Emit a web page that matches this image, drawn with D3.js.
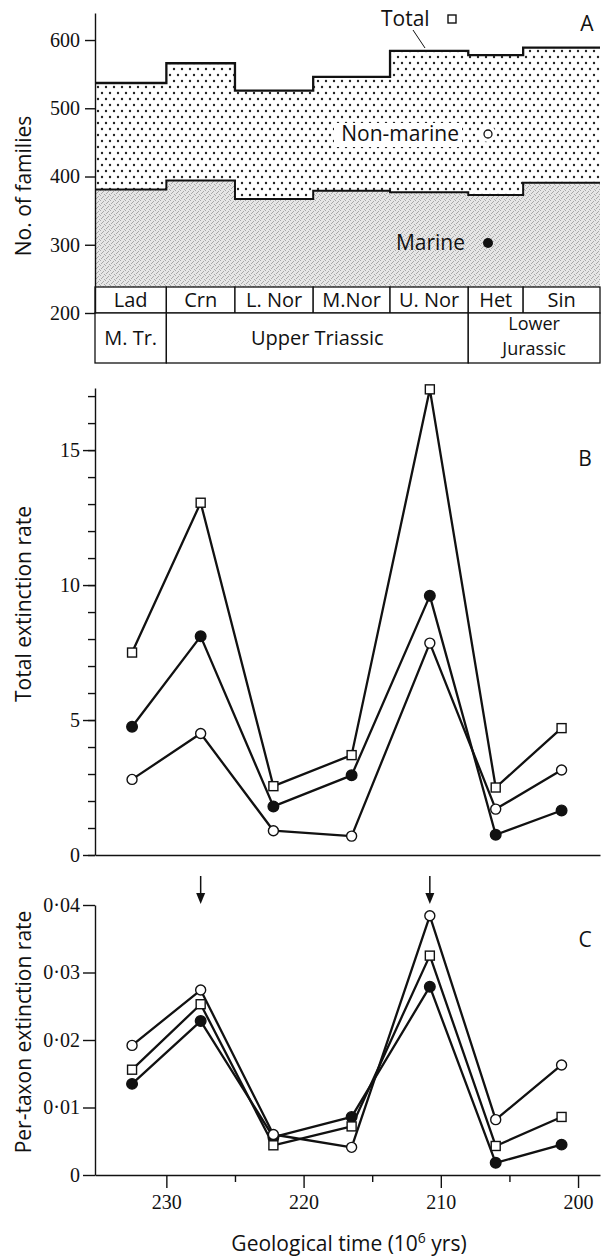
<html>
<head>
<script src="https://cdnjs.cloudflare.com/ajax/libs/d3/7.8.5/d3.min.js"></script>
<style>
body { margin: 0; background: #fff; }
text { font-family: "Open Sans", sans-serif; fill: #111; }
.tick text { font-family: "Liberation Serif", serif; font-size: 20px; fill: #111; }
.tick line, .domain { stroke: #111; stroke-width: 1.4px; }
</style>
</head>
<body>
<svg></svg>
<script>
// stages (time in 10^6 yrs)
var stageNames = ["Lad", "Crn", "L. Nor", "M.Nor", "U. Nor", "Het", "Sin"];
var stageBounds = [235.2, 230, 225, 219.3, 213.7, 208, 204, 198.4];
var stageMid = [232.5, 227.5, 222.2, 216.5, 210.8, 206, 201.2];
var periodNames = [["M. Tr."], ["Upper Triassic"], ["Lower", "Jurassic"]];
var periodBounds = [235.2, 230, 208, 198.4];

// A: number of families
var totalFamilies = [537, 566, 526, 546, 584, 578, 589];
var marineFamilies = [381, 394, 367, 379, 377, 373, 391];
var famTicks = [200, 300, 400, 500, 600];

// B: total extinction rate
var totalRate = [7.5, 13.05, 2.55, 3.7, 17.25, 2.5, 4.7];
var marineRate = [4.75, 8.1, 1.8, 2.95, 9.6, 0.75, 1.65];
var nonMarineRate = [2.8, 4.5, 0.9, 0.7, 7.85, 1.7, 3.15];
var rateTicks = [0, 5, 10, 15];

// C: per-taxon extinction rate
var totalPerTaxon = [0.0156, 0.0253, 0.0044, 0.0072, 0.0325, 0.0043, 0.0086];
var marinePerTaxon = [0.0135, 0.0228, 0.0056, 0.0086, 0.0279, 0.0018, 0.0045];
var nonMarinePerTaxon = [0.0192, 0.0274, 0.0060, 0.0041, 0.0384, 0.0082, 0.0163];
var perTaxonTicks = [0, 0.01, 0.02, 0.03, 0.04];

var timeTicks = [230, 220, 210, 200];
var timeMinor = [225, 215, 205];
var arrowTimes = [227.5, 210.8];

var svg = d3.select("svg").attr("width", 605).attr("height", 1257);
var x = d3.scaleLinear().domain([235.2, 198.4]).range([95, 600]);

// patterns
var defs = svg.append("defs");
var dots = defs.append("pattern").attr("id", "dots").attr("patternUnits", "userSpaceOnUse")
	.attr("width", 8).attr("height", 12);
dots.append("rect").attr("width", 8).attr("height", 12).attr("fill", "#fff");
dots.append("circle").attr("cx", 2).attr("cy", 3).attr("r", 1.2).attr("fill", "#222");
dots.append("circle").attr("cx", 6).attr("cy", 9).attr("r", 1.2).attr("fill", "#222");
var stip = defs.append("pattern").attr("id", "stip").attr("patternUnits", "userSpaceOnUse")
	.attr("width", 5).attr("height", 5);
stip.append("rect").attr("width", 5).attr("height", 5).attr("fill", "#e6e6e6");
[[0, 0], [3, 1], [1, 3], [4, 4], [2, 2]].forEach(function(p){
	stip.append("rect").attr("x", p[0]).attr("y", p[1]).attr("width", 1).attr("height", 1).attr("fill", "#a8a8a8");
});

function steps(vals){
	var out = [];
	vals.forEach(function(v, i){
		out.push([stageBounds[i], v]);
		out.push([stageBounds[i + 1], v]);
	});
	return out;
}

// ---------- panel A ----------
var yA = d3.scaleLinear().domain([200, 639.6]).range([313, 13]);
var gA = svg.append("g");
var totSteps = steps(totalFamilies), marSteps = steps(marineFamilies);

gA.append("path").datum(marSteps)
	.attr("fill", "url(#stip)")
	.attr("d", d3.area().x(function(d){ return x(d[0]); }).y0(287).y1(function(d){ return yA(d[1]); }));
gA.append("path").datum(totSteps)
	.attr("fill", "url(#dots)")
	.attr("d", d3.area().x(function(d){ return x(d[0]); })
		.y0(function(d, i){ return yA(marSteps[i][1]); })
		.y1(function(d){ return yA(d[1]); }));
var stepLine = d3.line().x(function(d){ return x(d[0]); }).y(function(d){ return yA(d[1]); });
gA.append("path").datum(marSteps).attr("d", stepLine).attr("fill", "none").attr("stroke", "#111").attr("stroke-width", 2);
gA.append("path").datum(totSteps).attr("d", stepLine).attr("fill", "none").attr("stroke", "#111").attr("stroke-width", 2.3);

// stage and period boxes
stageNames.forEach(function(n, i){
	var x0 = x(stageBounds[i]), x1 = x(stageBounds[i + 1]);
	gA.append("rect").attr("x", x0).attr("y", 287).attr("width", x1 - x0).attr("height", 26)
		.attr("fill", "#fff").attr("stroke", "#111").attr("stroke-width", 1.3);
	gA.append("text").attr("x", (x0 + x1) / 2).attr("y", 307).attr("text-anchor", "middle")
		.style("font-size", "20px").text(n);
});
periodNames.forEach(function(lines, i){
	var x0 = x(periodBounds[i]), x1 = x(periodBounds[i + 1]);
	gA.append("rect").attr("x", x0).attr("y", 313).attr("width", x1 - x0).attr("height", 50)
		.attr("fill", "#fff").attr("stroke", "#111").attr("stroke-width", 1.3);
	lines.forEach(function(l, j){
		gA.append("text").attr("x", (x0 + x1) / 2)
			.attr("y", lines.length == 1 ? 345 : 330 + j * 25)
			.attr("text-anchor", "middle").style("font-size", lines.length == 1 ? "20px" : "18px").text(l);
	});
});

gA.append("g").attr("transform", "translate(95,0)")
	.call(d3.axisLeft(yA).tickValues(famTicks).tickSize(10).tickPadding(5).tickSizeOuter(0));

// legend texts
gA.append("text").attr("x", 381).attr("y", 26).style("font-size", "21px").text("Total");
gA.append("rect").attr("x", 448).attr("y", 15).attr("width", 8).attr("height", 8)
	.attr("fill", "#fff").attr("stroke", "#111").attr("stroke-width", 1.4);
gA.append("line").attr("x1", 413).attr("y1", 30).attr("x2", 425).attr("y2", 48)
	.attr("stroke", "#111").attr("stroke-width", 1);
gA.append("rect").attr("x", 334).attr("y", 123).attr("width", 128).attr("height", 24).attr("fill", "#fff");
gA.append("text").attr("x", 459).attr("y", 141).attr("text-anchor", "end").style("font-size", "21px").text("Non-marine");
gA.append("circle").attr("cx", 488).attr("cy", 134).attr("r", 8).attr("fill", "#fff");
gA.append("circle").attr("cx", 488).attr("cy", 134).attr("r", 4).attr("fill", "#fff").attr("stroke", "#111").attr("stroke-width", 1.3);
gA.append("text").attr("x", 465).attr("y", 250).attr("text-anchor", "end").style("font-size", "21px").text("Marine");
gA.append("circle").attr("cx", 488).attr("cy", 243).attr("r", 5).attr("fill", "#111");
gA.append("text").attr("x", 587).attr("y", 31).attr("text-anchor", "middle").style("font-size", "21px").text("A");
gA.append("text").attr("transform", "translate(31,186) rotate(-90)").attr("text-anchor", "middle")
	.style("font-size", "21px").text("No. of families");

// ---------- series helper ----------
function drawSeries(g, y, series){
	var line = d3.line().x(function(d, i){ return x(stageMid[i]); }).y(function(d){ return y(d); });
	series.forEach(function(s){
		g.append("path").datum(s.vals).attr("d", line).attr("fill", "none")
			.attr("stroke", "#111").attr("stroke-width", 2.3).attr("stroke-linejoin", "round");
	});
	series.forEach(function(s){
		var m = g.selectAll(null).data(s.vals).enter();
		if (s.kind == "square") {
			m.append("rect").attr("x", function(d, i){ return x(stageMid[i]) - 4.5; })
				.attr("y", function(d){ return y(d) - 4.5; }).attr("width", 9).attr("height", 9)
				.attr("fill", "#fff").attr("stroke", "#111").attr("stroke-width", 1.4);
		} else {
			m.append("circle").attr("cx", function(d, i){ return x(stageMid[i]); })
				.attr("cy", function(d){ return y(d); })
				.attr("r", s.kind == "filled" ? 5.3 : 5)
				.attr("fill", s.kind == "filled" ? "#111" : "#fff")
				.attr("stroke", "#111").attr("stroke-width", 1.4);
		}
	});
}

// ---------- panel B ----------
var yB = d3.scaleLinear().domain([0, 17.3]).range([855, 388]);
var gB = svg.append("g");
gB.append("g").attr("transform", "translate(95,0)")
	.call(d3.axisLeft(yB).tickValues(d3.range(0, 18)).tickSize(7).tickFormat("").tickSizeOuter(0));
gB.append("g").attr("transform", "translate(95,0)")
	.call(d3.axisLeft(yB).tickValues(rateTicks).tickSize(12).tickPadding(3).tickSizeOuter(0))
	.select(".domain").remove();
gB.append("g").attr("transform", "translate(0," + yB(0) + ")")
	.call(d3.axisBottom(x).tickValues([]).tickSizeOuter(0));
drawSeries(gB, yB, [
	{vals: nonMarineRate, kind: "open"},
	{vals: marineRate, kind: "filled"},
	{vals: totalRate, kind: "square"}
]);
gB.append("text").attr("x", 585).attr("y", 466).attr("text-anchor", "middle").style("font-size", "21px").text("B");
gB.append("text").attr("transform", "translate(31,604) rotate(-90)").attr("text-anchor", "middle")
	.style("font-size", "21px").text("Total extinction rate");

// ---------- panel C ----------
var yC = d3.scaleLinear().domain([0, 0.04]).range([1175, 905]);
var gC = svg.append("g");
gC.append("g").attr("transform", "translate(95,0)")
	.call(d3.axisLeft(yC).tickValues(perTaxonTicks).tickSize(12).tickPadding(3).tickSizeOuter(0)
		.tickFormat(function(d){ return d === 0 ? "0" : d3.format(".2f")(d).replace(".", "·"); }));
gC.append("g").attr("transform", "translate(0,1175)")
	.call(d3.axisBottom(x).tickValues(timeMinor).tickSize(7).tickFormat("").tickSizeOuter(0));
gC.append("g").attr("transform", "translate(0,1175)")
	.call(d3.axisBottom(x).tickValues(timeTicks).tickSize(13).tickPadding(7).tickSizeOuter(0))
	.select(".domain").remove();
drawSeries(gC, yC, [
	{vals: marinePerTaxon, kind: "filled"},
	{vals: totalPerTaxon, kind: "square"},
	{vals: nonMarinePerTaxon, kind: "open"}
]);
arrowTimes.forEach(function(t){
	var ax = x(t);
	gC.append("line").attr("x1", ax).attr("x2", ax).attr("y1", 876).attr("y2", 896)
		.attr("stroke", "#111").attr("stroke-width", 1.5);
	gC.append("path").attr("d", "M" + (ax - 4.5) + ",893L" + (ax + 4.5) + ",893L" + ax + ",904Z").attr("fill", "#111");
});
gC.append("text").attr("x", 585).attr("y", 947).attr("text-anchor", "middle").style("font-size", "21px").text("C");
gC.append("text").attr("transform", "translate(31,1032) rotate(-90)").attr("text-anchor", "middle")
	.style("font-size", "21px").text("Per-taxon extinction rate");

var xl = gC.append("text").attr("x", 349).attr("y", 1251).attr("text-anchor", "middle").style("font-size", "21px");
xl.append("tspan").text("Geological time (10");
xl.append("tspan").attr("dy", -8).style("font-size", "14px").text("6");
xl.append("tspan").attr("dy", 8).text(" yrs)");
</script>
</body>
</html>
